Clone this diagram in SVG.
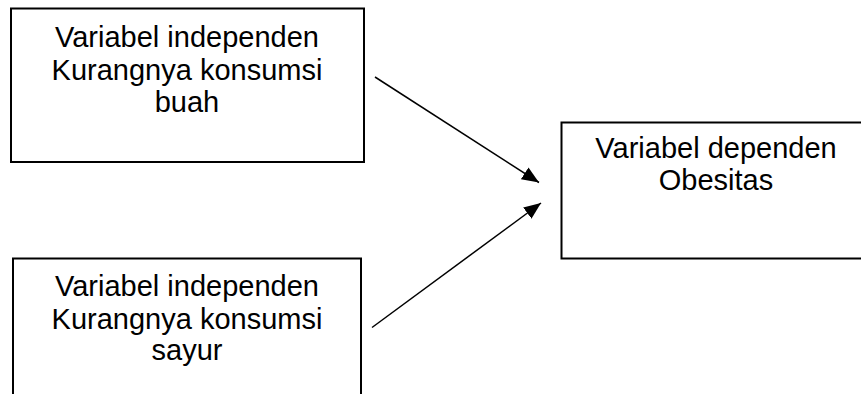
<svg xmlns="http://www.w3.org/2000/svg" width="861" height="394" viewBox="0 0 861 394">
  <style>
    .box { fill: #ffffff; stroke: #000000; stroke-width: 2; }
    .lbl { font-family: "Liberation Sans", Arial, sans-serif; font-size: 29px; fill: #000000; text-anchor: middle; }
    .conn { stroke: #000000; stroke-width: 1.5; fill: none; }
  </style>
  <defs>
    <marker id="arrow" markerUnits="userSpaceOnUse" markerWidth="18" markerHeight="15" refX="17" refY="7" orient="auto">
      <path d="M0,0 L17,7 L0,14 z" fill="#000000"/>
    </marker>
  </defs>
  <rect x="0" y="0" width="861" height="394" fill="#ffffff"/>
  <g id="node-buah">
    <rect class="box" x="11" y="8.5" width="353" height="153.5"/>
    <text class="lbl" x="187" y="46.5">Variabel independen</text>
    <text class="lbl" x="187" y="80">Kurangnya konsumsi</text>
    <text class="lbl" x="187" y="112">buah</text>
  </g>
  <g id="node-sayur">
    <rect class="box" x="13" y="258.5" width="348" height="160"/>
    <text class="lbl" x="187" y="295.5">Variabel independen</text>
    <text class="lbl" x="187" y="328.5">Kurangnya konsumsi</text>
    <text class="lbl" x="187" y="360">sayur</text>
  </g>
  <g id="node-obesitas">
    <rect class="box" x="561.5" y="122.5" width="340" height="136"/>
    <text class="lbl" x="716" y="157.5">Variabel dependen</text>
    <text class="lbl" x="716" y="190">Obesitas</text>
  </g>
  <g id="connectors">
    <line class="conn" x1="375" y1="77" x2="539" y2="182.5" marker-end="url(#arrow)"/>
    <line class="conn" x1="372" y1="327.5" x2="541" y2="203" marker-end="url(#arrow)"/>
  </g>
</svg>
